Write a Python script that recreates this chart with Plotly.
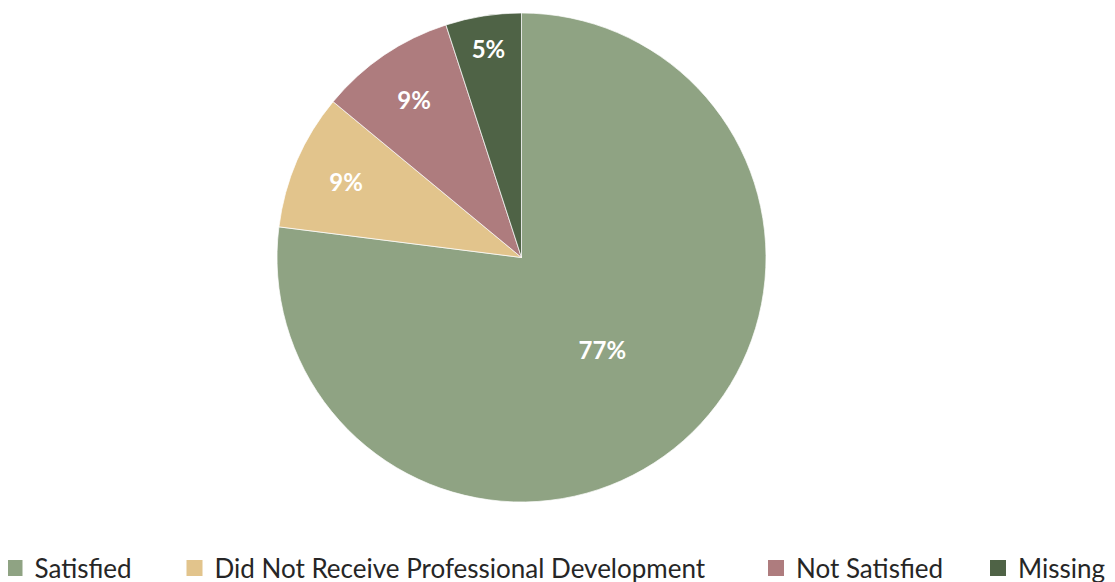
import plotly.graph_objects as go

labels = ["Satisfied", "Did Not Receive Professional Development", "Not Satisfied", "Missing"]
values = [77, 9, 9, 5]
colors = ["#8FA383", "#E2C48C", "#AE7C7E", "#4F6346"]

W, H = 1115, 582
OFF = 8  # page body margin in the screenshot
cx, cy, r = 521.5 - OFF, 257.5 - OFF, 244.5

# screen x of each legend swatch centre (layout only)
legend_swatch_x = [18.5, 198.5, 780, 1002]

fig = go.Figure()
fig.add_trace(go.Pie(
    labels=labels,
    values=values,
    sort=False,
    direction="clockwise",
    rotation=0,
    marker=dict(colors=colors, line=dict(color="rgba(255,255,255,0.7)", width=1)),
    texttemplate="%{percent:.0%}",
    textposition="inside",
    insidetextorientation="horizontal",
    textfont=dict(family="Lato", size=24, color="white", weight="bold"),
    domain=dict(x=[(cx - r) / W, (cx + r) / W], y=[(H - cy - r) / H, (H - cy + r) / H]),
    hoverinfo="label+percent",
    showlegend=False,
))

legend_layouts = {}
for i, (lab, col, sx) in enumerate(zip(labels, colors, legend_swatch_x)):
    key = "legend" if i == 0 else f"legend{i + 1}"
    fig.add_trace(go.Scatter(
        x=[None], y=[None], mode="markers", name=lab,
        marker=dict(symbol="square", size=16, color=col),
        showlegend=True, hoverinfo="skip", legend=key,
    ))
    legend_layouts[key] = dict(
        orientation="h",
        x=(sx - OFF - 24) / W, xanchor="left",
        y=(H - (568 - OFF)) / H, yanchor="middle",
        font=dict(family="Lato", size=26, color="#262626"),
        itemsizing="trace",
        bgcolor="rgba(0,0,0,0)",
    )

fig.update_layout(
    width=W, height=H,
    margin=dict(l=0, r=0, t=0, b=0, autoexpand=False),
    paper_bgcolor="white",
    plot_bgcolor="white",
    xaxis=dict(visible=False),
    yaxis=dict(visible=False),
    **legend_layouts,
)

fig.write_html("out.html")
